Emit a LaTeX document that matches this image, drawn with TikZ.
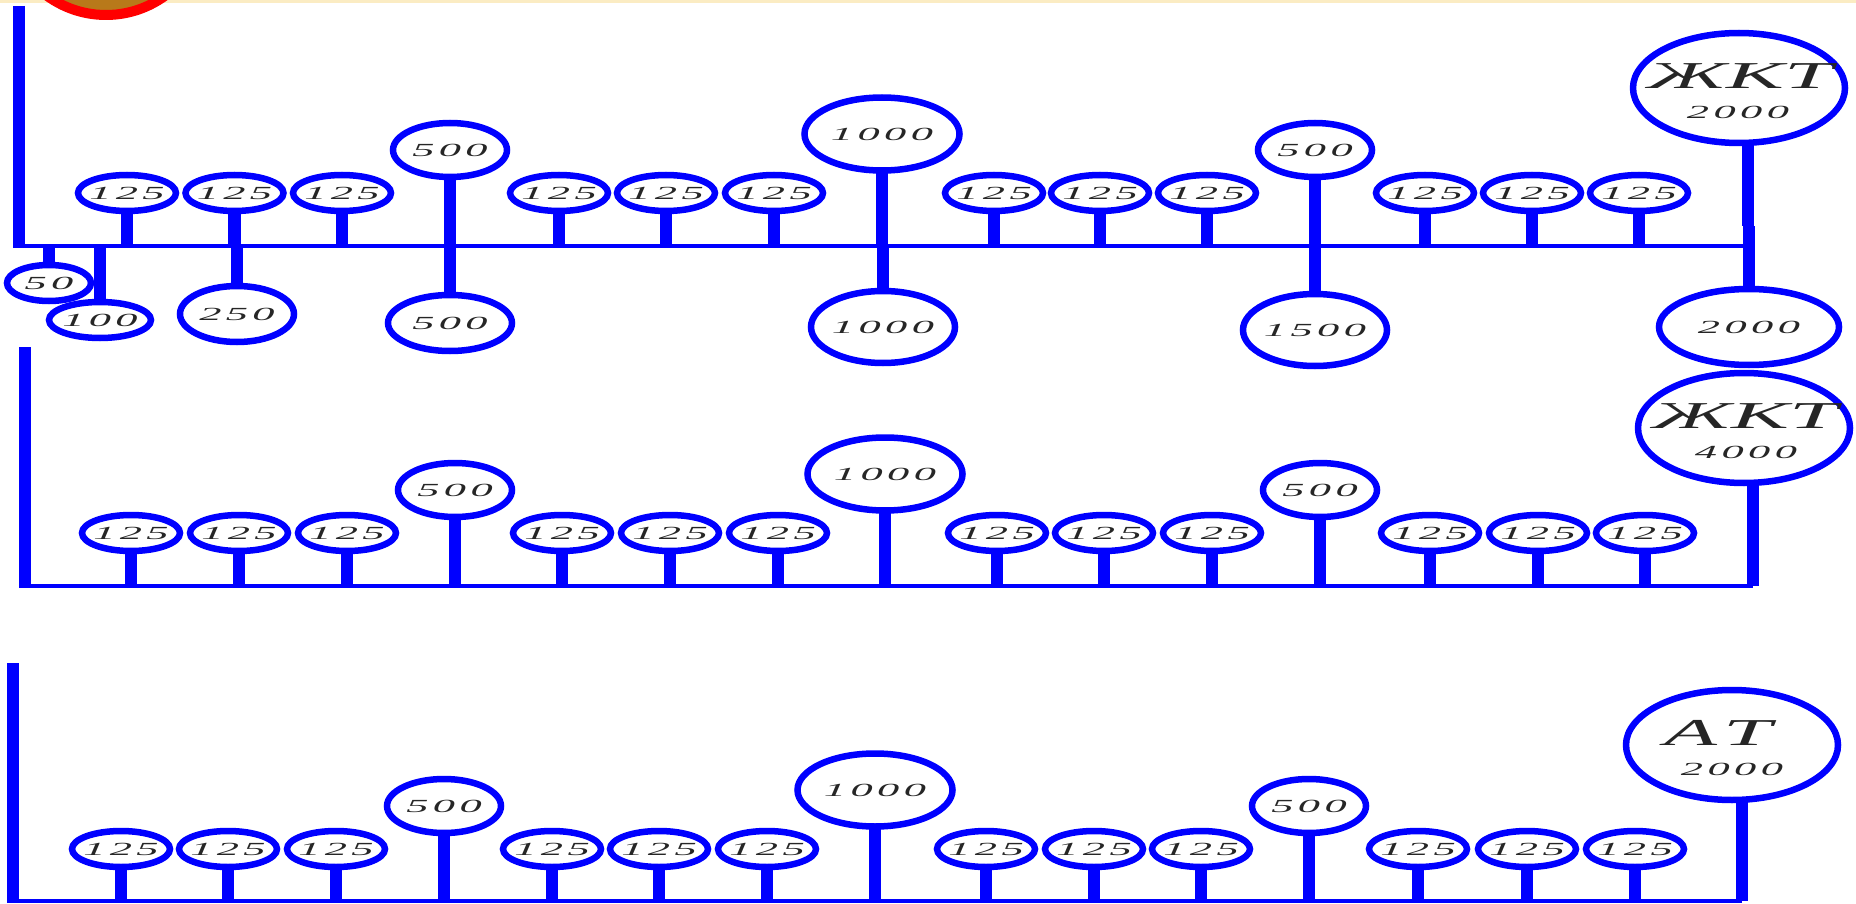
\documentclass[tikz,border=0pt]{standalone}
\usepackage{fontspec}
\setmainfont{Liberation Serif}
\newfontfamily\dgfont[LetterSpace=10]{Liberation Serif}
\usetikzlibrary{shapes.geometric}
\definecolor{wire}{RGB}{0,0,255}
\definecolor{band}{RGB}{251,236,195}
\definecolor{brown}{RGB}{184,121,26}
\newcommand{\dg}[1]{\scalebox{2.4}[1]{\fontsize{18.5}{20}\selectfont\dgfont\itshape #1}}
\newcommand{\bg}[1]{\scalebox{2.28}[1]{\fontsize{38}{40}\selectfont\itshape #1}}
\tikzset{
  ring/.style={ellipse,draw=wire,fill=white,line width=6.5pt,inner sep=0pt,outer sep=0pt},
  ringS/.style={ring,minimum width=98pt,minimum height=36pt},
  ringM/.style={ring,minimum width=114pt,minimum height=54pt},
  ringL/.style={ring,minimum width=155pt,minimum height=73pt},
  ringX/.style={ring,minimum width=212pt,minimum height=110pt},
  lab/.style={inner sep=0pt,outer sep=0pt,text=black!85},
  stemline/.style={draw=wire,line width=12.5pt},
  busline/.style={draw=wire,line width=4.5pt},
}
\begin{document}
\begin{tikzpicture}[x=1pt,y=-1pt]
\useasboundingbox (0,0) rectangle (1856,904);
\clip (0,0) rectangle (1856,904);
\fill[white] (0,0) rectangle (1856,904);
\fill[band] (0,0) rectangle (1856,3.5);
\fill[brown,draw=red,line width=10pt] (106,-85) circle[radius=100];

% buses
\coordinate (b1) at (0,246);
\coordinate (b2) at (0,586);
\coordinate (b3) at (0,901);
\coordinate (t1) at (19,6);
\coordinate (t2) at (25,347);
\coordinate (t3) at (13,663);
\coordinate (e1) at (1748,246);
\coordinate (e2) at (1753,586);
\coordinate (e3) at (1742,901);
\foreach \i in {1,2,3}{
  \draw[stemline] (t\i) -- ([yshift=-2.2pt]t\i |- b\i);
  \draw[busline] (t\i |- b\i) -- (e\i);
}

% upper rings of the three rows
\foreach \r/\base/\xs in {
  1/246/{127,234.5,342,559,666,774,994,1100,1207,1425,1532,1639},
  2/586/{131,239,347,562,670,778,997,1104,1212,1430,1538,1645},
  3/902/{121,228,336,552,659,767,986,1094,1201,1418,1527,1635}}{
  \foreach \x [count=\k] in \xs {
    \node[ringS] (s\r n\k) at (\x,\base-53) {};
    \node[lab] (s\r l\k) at (s\r n\k.center) {\dg{125}};
    \draw[stemline] (s\r n\k.south) -- (s\r n\k.south |- 0,\base);
  }
}
\foreach \r/\base/\xa/\xb/\xc in {1/246/450/882/1315,2/586/455/885/1320,3/902/444/875/1309}{
  \node[ringM] (m\r a) at (\xa,\base-96) {};
  \node[lab] (ml\r a) at (m\r a.center) {\dg{500}};
  \draw[stemline] (m\r a.south) -- (m\r a.south |- 0,\base);
  \node[ringL] (m\r b) at (\xb,\base-112) {};
  \node[lab] (ml\r b) at (m\r b.center) {\dg{1000}};
  \draw[stemline] (m\r b.south) -- (m\r b.south |- 0,\base);
  \node[ringM] (m\r c) at (\xc,\base-96) {};
  \node[lab] (ml\r c) at (m\r c.center) {\dg{500}};
  \draw[stemline] (m\r c.south) -- (m\r c.south |- 0,\base);
}

% end rings
\node[ringX] (x1) at (1739,88) {};
\node[lab] (x1t) at (1740,76) {\bg{ЖКТ}};
\node[lab] (x1n) at (1738,112) {\dg{2000}};
\node[ringX] (x2) at (1744,428) {};
\node[lab] (x2t) at (1745,416) {\bg{ЖКТ}};
\node[lab] (x2n) at (1746,452) {\dg{4000}};
\node[ringX] (x3) at (1732,745) {};
\node[lab] (x3t) at (1718,733) {\bg{А\kern3pt Т}};
\node[lab] (x3n) at (1732,769) {\dg{2000}};
\draw[stemline] (e1 |- x1.south) -- (e1 |- 0,226);
\draw[stemline] (e2 |- x2.south) -- (e2);
\draw[stemline] (e3 |- x3.south) -- (e3);

% lower rings of the first row
\node[ring,minimum width=84pt,minimum height=36pt] (d1) at (49,283) {};
\node[lab] (d1l) at (d1.center) {\dg{50}};
\draw[stemline] (d1.north) -- (d1.north |- b1);
\node[ring,minimum width=102pt,minimum height=36pt] (d2) at (100,320) {};
\node[lab] (d2l) at (d2.center) {\dg{100}};
\draw[stemline] (d2.north) -- (d2.north |- b1);
\node[ring,minimum width=114pt,minimum height=56pt] (d3) at (237,314) {};
\node[lab] (d3l) at (d3.center) {\dg{250}};
\draw[stemline] (d3.north) -- (d3.north |- b1);
\node[ring,minimum width=124pt,minimum height=56pt] (d4) at (450,323) {};
\node[lab] (d4l) at (d4.center) {\dg{500}};
\draw[stemline] (d4.north) -- (d4.north |- b1);
\node[ring,minimum width=144pt,minimum height=72pt] (d5) at (883,327) {};
\node[lab] (d5l) at (d5.center) {\dg{1000}};
\draw[stemline] (d5.north) -- (d5.north |- b1);
\node[ring,minimum width=144pt,minimum height=72pt] (d6) at (1315,330) {};
\node[lab] (d6l) at (d6.center) {\dg{1500}};
\draw[stemline] (d6.north) -- (d6.north |- b1);
\node[ring,minimum width=180pt,minimum height=76pt] (d7) at (1749,327) {};
\node[lab] (d7l) at (d7.center) {\dg{2000}};
\draw[stemline] (d7.north) -- (d7.north |- 0,226);
\end{tikzpicture}
\end{document}
